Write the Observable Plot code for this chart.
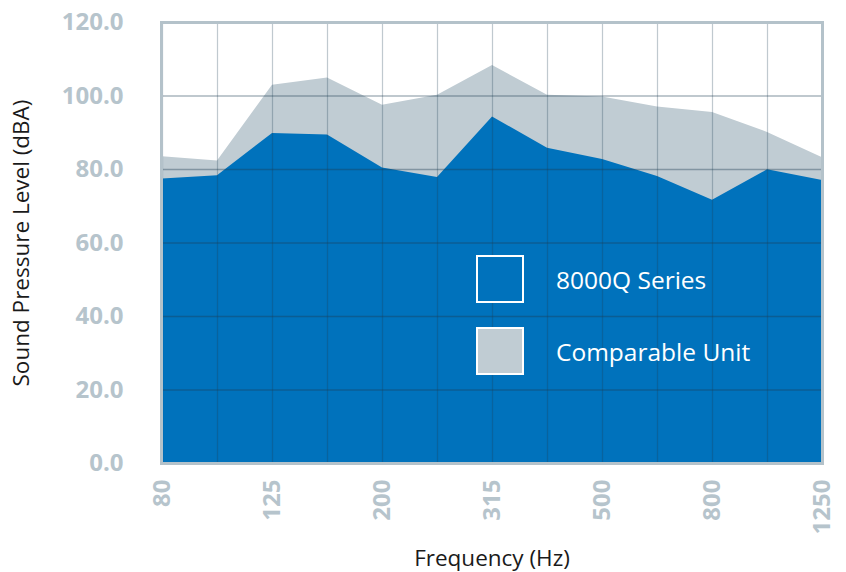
<!DOCTYPE html>
<html>
<head>
<meta charset="utf-8">
<script src="https://cdn.jsdelivr.net/npm/d3@7"></script>
<script src="https://cdn.jsdelivr.net/npm/@observablehq/plot@0.6"></script>
<style>
  html, body { margin: 0; padding: 0; background: #fff; }
  #wrap { position: relative; width: 846px; height: 572px; font-family: "Open Sans", sans-serif; }
  .leg { position: absolute; display: flex; align-items: center; color: #fff; font-size: 24.5px; }
  .sw { width: 44px; height: 44px; border: 2px solid #fff; margin-right: 32px; }
</style>
</head>
<body>
<div id="wrap"></div>
<script>
const frequencies = ["80","100","125","160","200","250","315","400","500","630","800","1000","1250"];
const series8000Q = [77.4, 78.3, 89.8, 89.4, 80.4, 77.8, 94.3, 85.8, 82.7, 78.1, 71.6, 79.9, 77.0];
const comparableUnit = [83.5, 82.3, 102.9, 104.9, 97.5, 100.2, 108.3, 100.2, 99.7, 97.0, 95.5, 90.1, 83.2];
const xTickLabels = ["80","125","200","315","500","800","1250"];
const yTicks = [0, 20, 40, 60, 80, 100, 120];
const legendItems = [
  {label: "8000Q Series", color: "#0072bc"},
  {label: "Comparable Unit", color: "#c0ccd3"}
];

const rows = frequencies.map((f, i) => ({freq: f, a: series8000Q[i], b: comparableUnit[i]}));
const tickColor = "#b6c4cc";

const chart = Plot.plot({
  width: 846,
  height: 572,
  marginLeft: 161,
  marginRight: 24,
  marginTop: 22,
  marginBottom: 109,
  style: {fontFamily: "Open Sans, sans-serif", fontSize: "22px", background: "#fff"},
  x: {type: "point", domain: frequencies, padding: 0},
  y: {domain: [0, 120]},
  marks: [
    Plot.areaY(rows, {x: "freq", y: "b", fill: legendItems[1].color}),
    Plot.areaY(rows, {x: "freq", y: "a", fill: legendItems[0].color}),
    Plot.gridX(frequencies, {stroke: "#1c3c52", strokeOpacity: 0.28, strokeWidth: 1.2}),
    Plot.gridY(yTicks, {stroke: "#1c3c52", strokeOpacity: 0.38, strokeWidth: 1.4}),
    Plot.frame({stroke: "#b4c2ca", strokeWidth: 3}),
    Plot.axisX(xTickLabels, {
      tickSize: 0, tickPadding: 16, tickRotate: -90,
      fill: tickColor, fontWeight: "bold", fontSize: 24,
      label: null
    }),
    Plot.axisX({
      ticks: [], tickSize: 0,
      label: "Frequency (Hz)", labelAnchor: "center", labelOffset: 102, labelArrow: "none",
      fill: "#1a1a1a", fontSize: 22.5
    }),
    Plot.axisY(yTicks, {
      tickSize: 0, tickPadding: 38, tickFormat: d => d.toFixed(1),
      fill: tickColor, fontWeight: "bold", fontSize: 24,
      label: null
    }),
    Plot.axisY({
      ticks: [], label: "Sound Pressure Level (dBA)", labelAnchor: "center",
      labelOffset: 148, labelArrow: "none", fill: "#1a1a1a", fontSize: 22.5, tickSize: 0
    })
  ]
});
const wrap = document.getElementById("wrap");
wrap.appendChild(chart);

legendItems.forEach((d, i) => {
  const el = document.createElement("div");
  el.className = "leg";
  el.style.left = "476px";
  el.style.top = (255 + i * 72) + "px";
  const sw = document.createElement("div");
  sw.className = "sw";
  sw.style.background = d.color;
  const tx = document.createElement("span");
  tx.textContent = d.label;
  el.appendChild(sw);
  el.appendChild(tx);
  wrap.appendChild(el);
});
</script>
</body>
</html>
